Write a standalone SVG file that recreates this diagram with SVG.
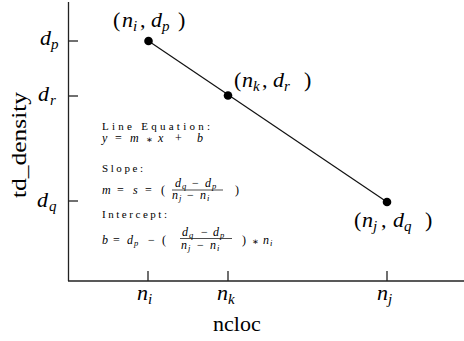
<svg xmlns="http://www.w3.org/2000/svg" width="464" height="341" viewBox="0 0 464 341">
<style>
.ax{stroke:#222;stroke-width:1.3;fill:none}
.ln{stroke:#111;stroke-width:1.2;fill:none}
.bar{stroke:#000;stroke-width:0.7}
</style>
<rect width="464" height="341" fill="#fff"/>
<g id="axes">
<line class="ax" x1="68.5" y1="2" x2="68.5" y2="281"/>
<line class="ax" x1="68" y1="281" x2="464" y2="281"/>
<line class="ax" x1="68.5" y1="41" x2="78" y2="41"/>
<line class="ax" x1="68.5" y1="96" x2="78" y2="96"/>
<line class="ax" x1="68.5" y1="201" x2="78" y2="201"/>
<line class="ax" x1="148" y1="271" x2="148" y2="281"/>
<line class="ax" x1="228" y1="271" x2="228" y2="281"/>
<line class="ax" x1="387" y1="271" x2="387" y2="281"/>
</g>
<g id="axis-labels" fill="#000">
<text style="font-family:'Liberation Serif',serif !important;font-size:22px" transform="translate(26,145) rotate(-90)" text-anchor="middle" textLength="106" lengthAdjust="spacingAndGlyphs">td_density</text>
<text style="font-family:'Liberation Serif',serif !important;font-size:22px" x="213" y="331">ncloc</text>
<text style="font-family:'Liberation Serif',serif !important;font-size:22px;font-style:italic" x="40" y="45">d</text>
<text style="font-family:'Liberation Serif',serif !important;font-size:22px;font-style:italic" x="38" y="101">d</text>
<text style="font-family:'Liberation Serif',serif !important;font-size:22px;font-style:italic" x="37" y="207">d</text>
<text style="font-family:'Liberation Serif',serif !important;font-size:22px;font-style:italic" x="137" y="300">n</text>
<text style="font-family:'Liberation Serif',serif !important;font-size:22px;font-style:italic" x="217" y="300">n</text>
<text style="font-family:'Liberation Serif',serif !important;font-size:22px;font-style:italic" x="377" y="300">n</text>
<text style="font-family:'Liberation Serif',serif !important;font-size:15px;font-style:italic" x="51" y="49">p</text>
<text style="font-family:'Liberation Serif',serif !important;font-size:15px;font-style:italic" x="50" y="105">r</text>
<text style="font-family:'Liberation Serif',serif !important;font-size:15px;font-style:italic" x="49" y="211">q</text>
<text style="font-family:'Liberation Serif',serif !important;font-size:15px;font-style:italic" x="148" y="304">i</text>
<text style="font-family:'Liberation Serif',serif !important;font-size:15px;font-style:italic" x="228" y="304">k</text>
<text style="font-family:'Liberation Serif',serif !important;font-size:15px;font-style:italic" x="388" y="304">j</text>
</g>
<g id="connectors">
<line class="ln" x1="148.5" y1="41" x2="387" y2="202"/>
</g>
<g id="point-ni-dp" fill="#000">
<circle cx="148.5" cy="41" r="4.3"/>
<text style="font-family:'Liberation Serif',serif !important;font-size:22px" x="113" y="27">(</text>
<text style="font-family:'Liberation Serif',serif !important;font-size:22px;font-style:italic" x="122" y="27">n</text>
<text style="font-family:'Liberation Serif',serif !important;font-size:15px;font-style:italic" x="133" y="31">i</text>
<text style="font-family:'Liberation Serif',serif !important;font-size:22px" x="140" y="27">,</text>
<text style="font-family:'Liberation Serif',serif !important;font-size:22px;font-style:italic" x="151" y="27">d</text>
<text style="font-family:'Liberation Serif',serif !important;font-size:15px;font-style:italic" x="162" y="31">p</text>
<text style="font-family:'Liberation Serif',serif !important;font-size:22px" x="178" y="27">)</text>
</g>
<g id="point-nk-dr" fill="#000">
<circle cx="228" cy="95.5" r="4.3"/>
<text style="font-family:'Liberation Serif',serif !important;font-size:22px" x="234" y="87">(</text>
<text style="font-family:'Liberation Serif',serif !important;font-size:22px;font-style:italic" x="242" y="87">n</text>
<text style="font-family:'Liberation Serif',serif !important;font-size:15px;font-style:italic" x="253" y="91">k</text>
<text style="font-family:'Liberation Serif',serif !important;font-size:22px" x="262" y="87">,</text>
<text style="font-family:'Liberation Serif',serif !important;font-size:22px;font-style:italic" x="273" y="87">d</text>
<text style="font-family:'Liberation Serif',serif !important;font-size:15px;font-style:italic" x="284" y="91">r</text>
<text style="font-family:'Liberation Serif',serif !important;font-size:22px" x="304" y="87">)</text>
</g>
<g id="point-nj-dq" fill="#000">
<circle cx="387" cy="202" r="4.3"/>
<text style="font-family:'Liberation Serif',serif !important;font-size:22px" x="354" y="227">(</text>
<text style="font-family:'Liberation Serif',serif !important;font-size:22px;font-style:italic" x="362" y="227">n</text>
<text style="font-family:'Liberation Serif',serif !important;font-size:15px;font-style:italic" x="373" y="231">j</text>
<text style="font-family:'Liberation Serif',serif !important;font-size:22px" x="381" y="227">,</text>
<text style="font-family:'Liberation Serif',serif !important;font-size:22px;font-style:italic" x="393" y="227">d</text>
<text style="font-family:'Liberation Serif',serif !important;font-size:15px;font-style:italic" x="404" y="231">q</text>
<text style="font-family:'Liberation Serif',serif !important;font-size:22px" x="425" y="227">)</text>
</g>
<g id="equations" fill="#000">
<text style="font-family:'Liberation Serif',serif !important;font-size:11px" x="102" y="130" textLength="108" lengthAdjust="spacing">Line Equation:</text>
<text style="font-family:'Liberation Serif',serif !important;font-size:11px" x="102" y="172" textLength="41" lengthAdjust="spacing">Slope:</text>
<text style="font-family:'Liberation Serif',serif !important;font-size:11px" x="102" y="218" textLength="65" lengthAdjust="spacing">Intercept:</text>

<text style="font-family:'Liberation Serif',serif !important;font-size:12px;font-style:italic" x="102" y="142">y</text>
<text style="font-family:'Liberation Serif',serif !important;font-size:12px" x="115" y="142">=</text>
<text style="font-family:'Liberation Serif',serif !important;font-size:12px;font-style:italic" x="130" y="142">m</text>
<text style="font-family:'DejaVu Serif',serif !important;font-size:10px" x="146" y="143">&#8727;</text>
<text style="font-family:'Liberation Serif',serif !important;font-size:12px;font-style:italic" x="158" y="142">x</text>
<text style="font-family:'Liberation Serif',serif !important;font-size:12px" x="175" y="142">+</text>
<text style="font-family:'Liberation Serif',serif !important;font-size:12px;font-style:italic" x="197" y="142">b</text>

<text style="font-family:'Liberation Serif',serif !important;font-size:12px;font-style:italic" x="102" y="194">m</text>
<text style="font-family:'Liberation Serif',serif !important;font-size:12px" x="117" y="194">=</text>
<text style="font-family:'Liberation Serif',serif !important;font-size:12px;font-style:italic" x="133" y="194">s</text>
<text style="font-family:'Liberation Serif',serif !important;font-size:12px" x="145" y="194">=</text>
<text style="font-family:'Liberation Serif',serif !important;font-size:12px" x="161" y="194">(</text>
<text style="font-family:'Liberation Serif',serif !important;font-size:12px;font-style:italic" x="175" y="187">d</text>
<text style="font-family:'Liberation Serif',serif !important;font-size:8.5px;font-style:italic" x="182" y="189">q</text>
<text style="font-family:'Liberation Serif',serif !important;font-size:12px" x="192" y="187">&#8722;</text>
<text style="font-family:'Liberation Serif',serif !important;font-size:12px;font-style:italic" x="205" y="187">d</text>
<text style="font-family:'Liberation Serif',serif !important;font-size:8.5px;font-style:italic" x="212" y="189">p</text>
<line class="bar" x1="172" y1="190" x2="223" y2="190"/>
<text style="font-family:'Liberation Serif',serif !important;font-size:12px;font-style:italic" x="172" y="199">n</text>
<text style="font-family:'Liberation Serif',serif !important;font-size:8.5px;font-style:italic" x="179" y="201">j</text>
<text style="font-family:'Liberation Serif',serif !important;font-size:12px" x="187" y="199">&#8722;</text>
<text style="font-family:'Liberation Serif',serif !important;font-size:12px;font-style:italic" x="200" y="199">n</text>
<text style="font-family:'Liberation Serif',serif !important;font-size:8.5px;font-style:italic" x="207" y="201">i</text>
<text style="font-family:'Liberation Serif',serif !important;font-size:12px" x="235" y="194">)</text>

<text style="font-family:'Liberation Serif',serif !important;font-size:12px;font-style:italic" x="102" y="244">b</text>
<text style="font-family:'Liberation Serif',serif !important;font-size:12px" x="113" y="244">=</text>
<text style="font-family:'Liberation Serif',serif !important;font-size:12px;font-style:italic" x="127" y="244">d</text>
<text style="font-family:'Liberation Serif',serif !important;font-size:8.5px;font-style:italic" x="134" y="246">p</text>
<text style="font-family:'Liberation Serif',serif !important;font-size:12px" x="148" y="244">&#8722;</text>
<text style="font-family:'Liberation Serif',serif !important;font-size:12px" x="162" y="244">(</text>
<text style="font-family:'Liberation Serif',serif !important;font-size:12px;font-style:italic" x="182" y="235.5">d</text>
<text style="font-family:'Liberation Serif',serif !important;font-size:8.5px;font-style:italic" x="189" y="237.5">q</text>
<text style="font-family:'Liberation Serif',serif !important;font-size:12px" x="201" y="235.5">&#8722;</text>
<text style="font-family:'Liberation Serif',serif !important;font-size:12px;font-style:italic" x="213" y="235.5">d</text>
<text style="font-family:'Liberation Serif',serif !important;font-size:8.5px;font-style:italic" x="220" y="237.5">p</text>
<line class="bar" x1="180" y1="238.5" x2="232" y2="238.5"/>
<text style="font-family:'Liberation Serif',serif !important;font-size:12px;font-style:italic" x="181" y="249">n</text>
<text style="font-family:'Liberation Serif',serif !important;font-size:8.5px;font-style:italic" x="188" y="251">j</text>
<text style="font-family:'Liberation Serif',serif !important;font-size:12px" x="197" y="249">&#8722;</text>
<text style="font-family:'Liberation Serif',serif !important;font-size:12px;font-style:italic" x="210" y="249">n</text>
<text style="font-family:'Liberation Serif',serif !important;font-size:8.5px;font-style:italic" x="217" y="251">i</text>
<text style="font-family:'Liberation Serif',serif !important;font-size:12px" x="242" y="244">)</text>
<text style="font-family:'DejaVu Serif',serif !important;font-size:10px" x="252" y="245">&#8727;</text>
<text style="font-family:'Liberation Serif',serif !important;font-size:12px;font-style:italic" x="263" y="244">n</text>
<text style="font-family:'Liberation Serif',serif !important;font-size:8.5px;font-style:italic" x="270" y="246">i</text>
</g>
</svg>
